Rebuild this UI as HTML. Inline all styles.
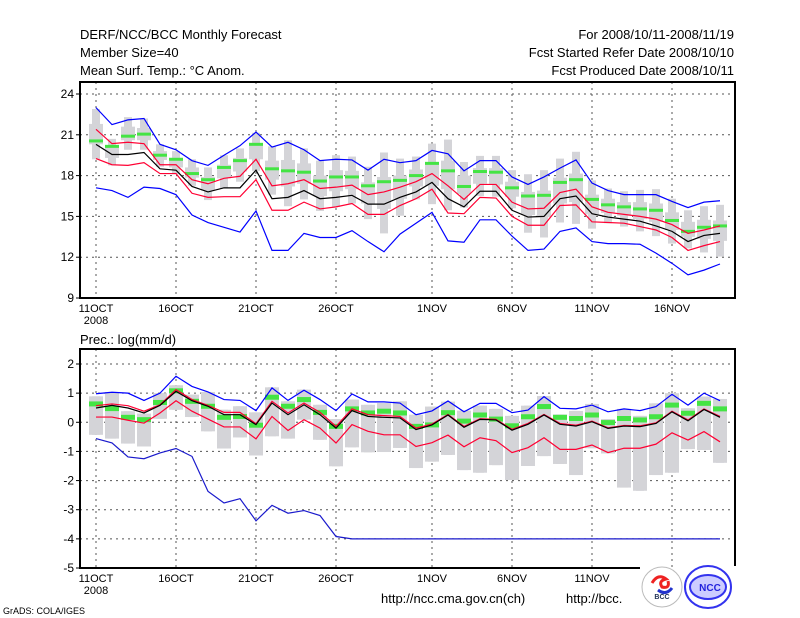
<!DOCTYPE html>
<html><head><meta charset="utf-8"><style>
body{margin:0;background:#fff;}
svg{display:block;font-family:"Liberation Sans",sans-serif;}
</style></head><body>
<svg id="c" width="800" height="618" viewBox="0 0 800 618">
<g font-size="13" fill="#000">
<text x="80" y="39">DERF/NCC/BCC Monthly Forecast</text>
<text x="80" y="57">Member Size=40</text>
<text x="80" y="75">Mean Surf. Temp.: °C Anom.</text>
<text x="734" y="39" text-anchor="end">For 2008/10/11-2008/11/19</text>
<text x="734" y="57" text-anchor="end">Fcst Started Refer Date 2008/10/10</text>
<text x="734" y="75" text-anchor="end">Fcst Produced Date 2008/10/11</text>
<text x="80" y="344">Prec.: log(mm/d)</text>
</g>
<g id="top"></g>
<g id="bot"></g>
<text x="381" y="603" font-size="13">http://ncc.cma.gov.cn(ch)</text>
<text x="566" y="603" font-size="13">http://bcc.</text>
<text x="3" y="614" font-size="9">GrADS: COLA/IGES</text>
<g>
<circle cx="662" cy="587" r="20" fill="#fff" stroke="#bbb"/>
<path d="M652 583 q6 -10 14 -4 q-8 2 -4 8 q8 2 6 -6" stroke="#e22" stroke-width="3" fill="none"/>
<path d="M658 590 q8 6 14 -2" stroke="#23c" stroke-width="3" fill="none"/>
<text x="662" y="599" font-size="7" font-weight="bold" text-anchor="middle" fill="#235">BCC</text>
</g>
<g>
<ellipse cx="708" cy="587" rx="23" ry="21" fill="#fff" stroke="#33e" stroke-width="2"/>
<ellipse cx="708" cy="587" rx="18" ry="12" fill="#ccf" stroke="#33e" stroke-width="2"/>
<text x="710" y="591" font-size="10" font-weight="bold" text-anchor="middle" fill="#22d">NCC</text>
</g>
</svg>
<script>
// ---- data ----
const dayLabels=["11OCT","16OCT","21OCT","26OCT","1NOV","6NOV","11NOV","16NOV"];
const dayLabelIdx=[0,5,10,15,21,26,31,36];
const tTicks=[9,12,15,18,21,24];
const pTicks=[-5,-4,-3,-2,-1,0,1,2];
const tBlueHi=[23.0,21.75,22.1,22.2,20.3,19.9,19.1,18.75,19.5,20.2,21.2,20.1,20.45,19.9,19.1,19.2,19.15,18.4,19.2,18.95,19.1,19.85,19.6,18.35,19.1,19.1,17.9,17.35,17.9,18.55,19.15,17.45,16.9,16.6,16.6,16.6,16.1,15.65,16.05,16.15];
const tBlueLo=[17.1,16.9,16.4,17.15,17.05,16.6,15.1,14.55,14.2,13.85,15.4,12.5,12.5,13.75,13.45,13.45,13.95,13.15,12.4,13.7,14.5,15.3,13.2,13.1,14.75,14.75,13.55,12.5,12.6,13.9,14.15,13.15,13.0,13.0,12.95,12.3,11.55,10.7,11.05,11.5];
const tMean=[20.3,19.55,19.55,19.7,18.5,18.4,17.2,16.8,17.1,17.1,18.4,16.3,16.4,16.9,16.3,16.4,16.55,15.9,15.9,16.4,16.8,17.5,16.3,15.7,16.85,16.85,15.45,14.95,15.0,16.3,16.5,15.2,14.95,14.8,14.65,14.3,13.9,13.15,13.6,13.75];
const tRedHi=[21.4,20.35,20.45,20.35,18.8,18.8,17.7,17.4,17.8,17.95,19.2,17.25,17.4,17.7,17.05,17.15,17.3,16.6,16.8,17.15,17.55,18.15,17.25,16.25,17.35,17.35,16.05,15.55,15.6,16.75,17.0,15.7,15.3,15.15,15.0,14.8,14.4,13.75,14.0,14.3];
const tRedLo=[19.25,18.8,18.75,18.95,18.15,18.15,16.7,16.4,16.45,16.45,17.7,15.45,15.45,16.05,15.55,15.7,15.95,15.15,15.15,15.8,16.3,17.0,15.25,15.2,16.4,16.35,15.0,14.35,14.35,15.8,15.85,14.6,14.55,14.5,14.25,14.0,13.45,12.5,12.85,13.15];
const tGreen=[20.55,20.15,20.9,21.05,19.5,19.2,18.15,17.7,18.6,19.1,20.3,18.5,18.35,18.25,17.6,17.9,17.9,17.25,17.55,17.65,18.0,18.9,18.35,17.2,18.3,18.25,17.1,16.5,16.55,17.5,17.7,16.25,15.85,15.7,15.55,15.45,14.7,13.9,14.2,14.3];
const tRangeHi=[22.9,20.7,22.3,22.2,20.3,19.8,19.2,18.6,19.5,20.0,21.15,20.15,20.6,20.0,19.1,19.5,19.4,18.65,19.7,19.25,19.4,20.35,20.65,19.0,19.45,19.45,18.4,18.1,18.4,19.25,19.75,17.65,17.05,16.85,16.95,17.0,16.3,15.45,15.75,15.85];
const tRangeLo=[19.2,18.75,19.9,19.9,18.65,18.1,17.25,16.2,17.05,17.55,18.35,16.6,15.75,16.25,15.4,15.7,15.95,14.8,13.75,15.05,16.25,15.9,15.45,15.65,16.5,16.45,15.6,13.8,13.45,14.55,14.45,14.1,14.5,14.25,13.9,13.55,13.0,12.65,12.35,12.05];
const tBoxHi=[21.8,20.1,21.6,21.5,19.8,19.3,18.6,17.9,18.8,19.3,20.3,19.1,19.15,18.9,18.0,18.4,18.35,17.5,17.9,18.0,18.45,19.0,19.1,18.0,18.55,18.55,17.55,16.8,16.9,17.85,18.15,16.6,16.3,16.05,16.05,15.95,15.3,14.6,14.75,14.7];
const tBoxLo=[20.3,19.3,20.6,20.6,19.15,18.6,17.85,16.9,17.8,18.3,19.2,17.7,17.2,17.4,16.5,16.85,17.0,15.95,15.55,16.3,17.2,17.25,17.0,16.65,17.4,17.35,16.45,15.1,14.95,15.95,16.05,15.15,15.25,15.05,14.8,14.6,14.0,13.5,13.35,13.2];
const pBlueHi=[0.98,1.03,1.0,0.75,1.0,1.58,1.23,1.04,0.78,0.75,0.4,1.18,0.75,1.1,0.78,0.4,0.97,0.7,0.7,0.66,0.26,0.39,0.73,0.36,0.65,0.65,0.33,0.42,0.88,0.48,0.46,0.59,0.36,0.46,0.4,0.54,0.96,0.59,1.0,0.74];
const pBlueLo=[-0.56,-0.71,-1.19,-1.25,-1.05,-0.9,-1.17,-2.37,-2.77,-2.62,-3.38,-2.85,-3.12,-3.03,-3.2,-3.92,-4,-4,-4,-4,-4,-4,-4,-4,-4,-4,-4,-4,-4,-4,-4,-4,-4,-4,-4,-4,-4,-4,-4,-4];
const pMean=[0.49,0.58,0.49,0.32,0.58,1.06,0.74,0.55,0.26,0.26,-0.08,0.66,0.26,0.6,0.26,-0.2,0.4,0.2,0.17,0.15,-0.25,-0.09,0.25,-0.17,0.1,0.08,-0.27,-0.07,0.25,-0.07,-0.13,0.02,-0.21,-0.13,-0.15,-0.04,0.36,0.05,0.44,0.17];
const pRedHi=[0.57,0.63,0.57,0.38,0.6,1.12,0.78,0.58,0.34,0.34,-0.05,0.72,0.32,0.66,0.34,-0.14,0.46,0.26,0.23,0.2,-0.2,-0.06,0.27,-0.14,0.12,0.1,-0.24,-0.04,0.27,-0.04,-0.1,0.04,-0.19,-0.11,-0.12,-0.02,0.38,0.08,0.46,0.2];
const pRedLo=[0.18,0.18,0.07,-0.03,0.32,0.74,0.38,0.11,-0.16,-0.16,-0.57,0.2,-0.28,0.09,-0.2,-0.71,-0.08,-0.31,-0.43,-0.43,-0.83,-0.7,-0.44,-0.84,-0.53,-0.63,-1.04,-0.87,-0.53,-0.93,-0.93,-0.78,-1.04,-0.89,-0.89,-0.75,-0.36,-0.61,-0.32,-0.67];
const pGreen=[0.63,0.47,0.17,0.09,0.68,1.08,0.72,0.55,0.17,0.2,-0.1,0.86,0.55,0.78,0.34,-0.14,0.46,0.32,0.38,0.32,-0.14,-0.09,0.33,0.04,0.25,0.11,-0.12,0.19,0.54,0.17,0.13,0.25,-0.01,0.13,0.08,0.19,0.59,0.31,0.65,0.46];
const pRangeHi=[0.89,1.04,0.38,0.3,1.0,1.27,0.95,1.04,0.43,0.55,0.34,1.2,0.72,1.12,0.6,0.11,0.78,0.6,0.66,0.72,0.26,0.54,0.71,0.4,0.57,0.46,0.22,0.57,0.9,0.27,0.39,0.63,0.11,0.46,0.22,0.65,1.0,0.48,0.88,0.8];
const pRangeLo=[-0.43,-0.56,-0.73,-0.83,0.12,0.43,0.18,-0.31,-0.9,-0.52,-1.14,-0.48,-0.56,0.09,-0.6,-1.51,-0.86,-1.03,-1.02,-0.88,-1.57,-1.35,-1.12,-1.64,-1.73,-1.47,-1.98,-1.5,-1.16,-1.43,-1.81,-0.89,-1.07,-2.24,-2.35,-1.81,-1.73,-0.92,-0.95,-1.39];

const NS='http://www.w3.org/2000/svg';
function mk(parent,tag,at){const e=document.createElementNS(NS,tag);for(const k in at)e.setAttribute(k,at[k]);parent.appendChild(e);return e;}
const xOf=i=>96+16*i;

function panel(gid,x0,x1,yTop,yBot,vMin,vMax,yPix0,yPix1,ticks,sets,greenH,cut){
  const g=document.getElementById(gid);
  const yOf=v=>yPix0+(v-vMin)/(vMax-vMin)*(yPix1-yPix0);
  ticks.forEach(t=>{const y=yOf(t);
    if(t>vMin){const l=mk(g,'line',{x1:x0,x2:x1,y1:y,y2:y,stroke:'#555','stroke-dasharray':'2,4','stroke-width':1});
    
    }
    const tk=mk(g,'line',{x1:x0-4,x2:x0,y1:y,y2:y,stroke:'#000'});
    
    
    const tx=mk(g,'text',{x:x0-6,y:y+4,'font-size':12,'text-anchor':'end'});tx.textContent=t;
    
    
  });
  dayLabelIdx.forEach((d,k)=>{const x=xOf(d);
    const l=mk(g,'line',{x1:x,x2:x,y1:yTop,y2:yBot,stroke:'#555','stroke-dasharray':'2,4'});
    
    
    if(!(cut&&x>630)){const tx=mk(g,'text',{x:x,y:yBot+14,'font-size':11,'text-anchor':'middle'});tx.textContent=dayLabels[k];
    
    }
  });
  const yr=mk(g,'text',{x:96,y:yBot+26,'font-size':11,'text-anchor':'middle'});yr.textContent='2008';
  
  
  const [rHi,rLo,bHi,bLo,green,blueHi,blueLo,redHi,redLo,mean]=sets;
  for(let i=0;i<rHi.length;i++){const x=xOf(i);
    const r=mk(g,'rect',{x:x-4,y:yOf(rHi[i]),width:8,height:yOf(rLo[i])-yOf(rHi[i]),fill:'#d4d4d8'});
    
    
    const b=mk(g,'rect',{x:x-7,y:yOf(bHi[i]),width:14,height:yOf(bLo[i])-yOf(bHi[i]),fill:'#d4d4d8'});
    
    
  }
  for(let i=0;i<green.length;i++){
    const m=mk(g,'rect',{x:xOf(i)-7,y:yOf(green[i])-greenH/2,width:14,height:greenH,fill:'#44e444'});
    
    
  }
  const line=(arr,col,name)=>{const p=mk(g,'polyline',{points:arr.map((v,i)=>xOf(i)+','+yOf(v)).join(' '),fill:'none',stroke:col,'stroke-width':1.2});
    
    };
  line(blueHi,'#0000ff','max-line');line(blueLo,cut?'#1a1acc':'#0000ff','min-line');
  line(redHi,'#ff0033','upper-std-line');line(redLo,'#ff0033','lower-std-line');
  line(mean,'#000','ensemble-mean-line');
  const fp=cut?`M${x1} ${yBot-2} L${x1} ${yTop} L${x0} ${yTop} L${x0} ${yBot} L640 ${yBot}`:`M${x0} ${yTop} H${x1} V${yBot} H${x0} Z`;
  const f=mk(g,'path',{d:fp,fill:'none',stroke:'#000','stroke-width':2});
  
  
}
panel('top',80,735,82,298,9,24,298,94,tTicks,[tRangeHi,tRangeLo,tBoxHi,tBoxLo,tGreen,tBlueHi,tBlueLo,tRedHi,tRedLo,tMean],3,false);
panel('bot',80,735,349,568,-5,2,568,364,pTicks,[pRangeHi,pRangeLo,pRangeHi,pRangeLo,pGreen,pBlueHi,pBlueLo,pRedHi,pRedLo,pMean],5,true);
</script>
</body></html>
